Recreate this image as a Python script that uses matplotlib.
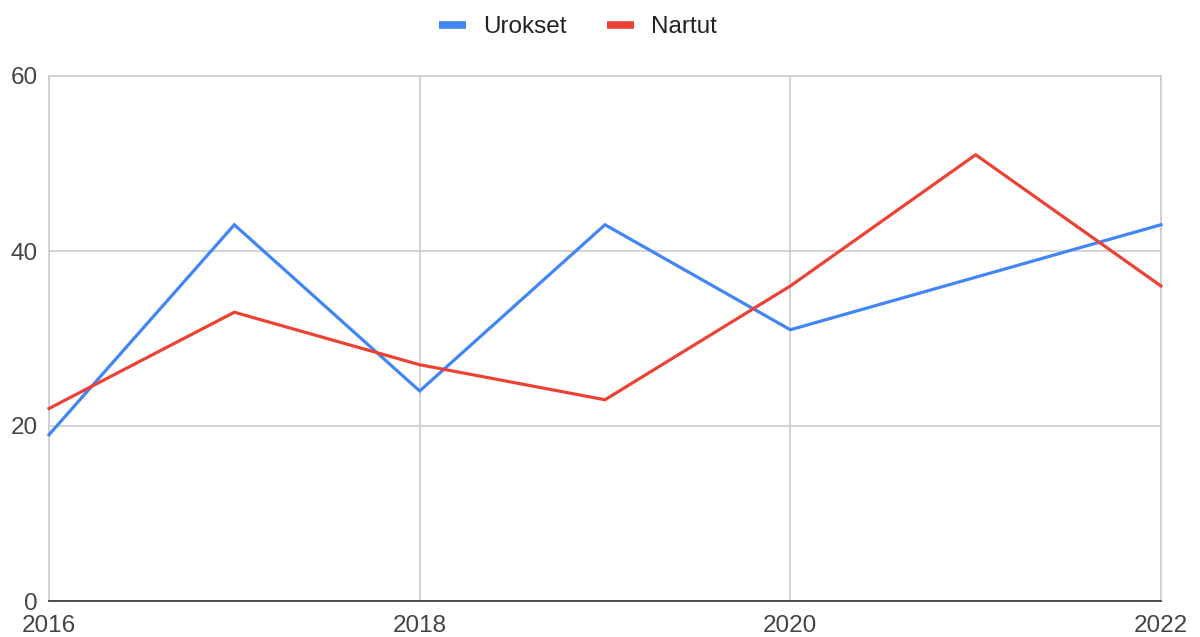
import matplotlib.pyplot as plt
from matplotlib.lines import Line2D

plt.rcParams['font.family'] = ['Liberation Sans', 'DejaVu Sans']

years = [2016, 2017, 2018, 2019, 2020, 2021, 2022]
urokset = [19, 43, 24, 43, 31, 37, 43]
nartut = [22, 33, 27, 23, 36, 51, 36]
series_names = ['Urokset', 'Nartut']
colors = ['#4285F4', '#EA4335']
y_ticks = [0, 20, 40, 60]
x_ticks = [2016, 2018, 2020, 2022]

fig = plt.figure(figsize=(12, 6.37), dpi=100)
ax = fig.add_axes([49 / 1200, 1 - 601 / 637, (1161 - 49) / 1200, (601 - 76) / 637])

ax.plot(years, urokset, color=colors[0], lw=2.3, solid_joinstyle='miter', zorder=3, clip_on=False)
ax.plot(years, nartut, color=colors[1], lw=2.3, solid_joinstyle='miter', zorder=3, clip_on=False)

ax.set_xlim(2016, 2022)
ax.set_ylim(0, 60)
ax.set_xticks(x_ticks)
ax.set_yticks(y_ticks)
ax.grid(True, color='#cccccc', lw=1.2)
ax.set_axisbelow(True)
for side in ['left', 'right', 'top']:
    ax.spines[side].set_color('#cccccc')
    ax.spines[side].set_linewidth(1.2)
ax.spines['bottom'].set_color('#333333')
ax.spines['bottom'].set_linewidth(1.2)
ax.tick_params(length=0, labelsize=17.5, labelcolor='#444444')
ax.tick_params(axis='y', pad=8)
ax.tick_params(axis='x', pad=10)

handles = [Line2D([], [], color=c, lw=5.5, solid_capstyle='butt') for c in colors]
fig.legend(handles, series_names, loc='center', bbox_to_anchor=(578 / 1200, 1 - 27 / 637),
           ncol=2, frameon=False, fontsize=17.5, handlelength=1.1, handletextpad=0.7,
           columnspacing=1.7, labelcolor='#222222')

fig.savefig('out.png', dpi=100)
